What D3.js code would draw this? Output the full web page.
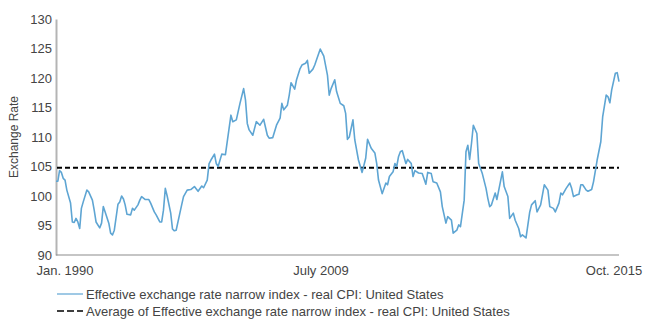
<!DOCTYPE html>
<html>
  <head>
    <script type="text/javascript" src="https://cdn.jsdelivr.net/npm/d3@7/dist/d3.min.js"></script>
    <style>
      body { margin: 0; background: #fff; }
      text { font-family: "Liberation Sans", Arial, sans-serif; }
    </style>
  </head>
  <body>
    <div id="viz"></div>
    <script type="text/javascript">
      // monthly readings (only the months)
      const months = [
        "1990-01","1990-02","1990-03","1990-04","1990-05","1990-06","1990-07","1990-09","1990-10","1990-11","1990-12",
        "1991-01","1991-02","1991-03","1991-04","1991-06","1991-07","1991-09","1991-10","1991-11",
        "1992-01","1992-02","1992-03","1992-04","1992-06","1992-07","1992-08","1992-09","1992-11","1992-12",
        "1993-01","1993-02","1993-03","1993-04","1993-06","1993-07","1993-08","1993-10","1993-11","1993-12",
        "1994-02","1994-04","1994-05","1994-07","1994-08","1994-10","1994-11","1994-12",
        "1995-01","1995-02","1995-04","1995-05","1995-06","1995-07","1995-09","1995-10","1995-11",
        "1996-01","1996-03","1996-05","1996-07","1996-09","1996-10","1996-12",
        "1997-01","1997-02","1997-04","1997-05","1997-06","1997-08","1997-10",
        "1998-01","1998-02","1998-04","1998-06","1998-08","1998-09","1998-10","1998-11",
        "1999-01","1999-03","1999-05","1999-07","1999-09","1999-10","1999-12",
        "2000-02","2000-04","2000-05","2000-06","2000-08","2000-09","2000-10","2000-12",
        "2001-01","2001-03","2001-04","2001-06","2001-07","2001-08","2001-10","2001-11","2001-12",
        "2002-02","2002-04","2002-06","2002-07","2002-08","2002-10","2002-11",
        "2003-01","2003-03","2003-04","2003-05","2003-06","2003-08","2003-09","2003-11",
        "2004-01","2004-03","2004-04","2004-06","2004-08","2004-09","2004-10","2004-12",
        "2005-02","2005-03","2005-04","2005-06","2005-07","2005-08","2005-09","2005-10","2005-11",
        "2006-01","2006-02","2006-04","2006-05","2006-06","2006-08","2006-10","2006-12",
        "2007-01","2007-03","2007-04","2007-06","2007-08","2007-09","2007-11","2007-12",
        "2008-02","2008-03","2008-05","2008-06","2008-07","2008-09","2008-10","2008-11","2008-12",
        "2009-01","2009-02","2009-04","2009-05","2009-07","2009-09","2009-10","2009-11","2009-12",
        "2010-02","2010-03","2010-06","2010-07","2010-09","2010-10","2010-12",
        "2011-01","2011-03","2011-04","2011-05","2011-07","2011-09","2011-10","2011-12",
        "2012-01","2012-03","2012-05","2012-07","2012-08","2012-10","2012-11",
        "2013-01","2013-02","2013-03","2013-05","2013-07","2013-08","2013-09","2013-11","2013-12",
        "2014-01","2014-02","2014-04","2014-05","2014-07","2014-08","2014-10","2014-12",
        "2015-01","2015-03","2015-04","2015-05","2015-06","2015-08","2015-09","2015-10"
      ];
      const rate = [
        102.5,102.5,104.3,104.0,103.0,102.7,101.0,98.8,95.6,95.5,96.2,
        95.6,94.5,97.9,99.0,101.0,100.7,99.3,97.6,95.6,
        94.6,95.4,98.2,97.3,95.4,93.7,93.4,94.2,98.6,99.0,
        100.0,99.5,98.5,96.9,96.8,97.9,97.6,98.5,99.3,99.9,
        99.4,99.4,98.8,97.3,96.8,95.6,95.6,97.6,
        101.3,100.0,97.1,94.4,94.1,94.2,97.1,98.5,99.9,
        101.0,101.1,101.6,100.8,101.7,101.4,102.7,
        105.5,106.1,107.1,105.5,105.0,107.1,107.0,
        113.7,112.6,112.9,115.7,118.2,116.3,112.3,111.2,
        110.3,112.6,112.0,113.0,110.3,109.8,109.9,
        112.0,113.2,115.7,114.6,115.4,117.1,119.2,118.1,
        119.7,121.6,122.2,122.5,123.0,120.8,121.5,122.2,123.1,
        124.9,123.7,120.5,117.1,118.2,119.7,117.7,
        115.7,115.3,114.0,109.6,110.0,112.9,109.5,106.1,
        104.0,106.4,109.6,108.1,107.3,105.5,102.7,100.4,
        102.2,101.9,103.3,104.1,105.5,105.0,106.7,107.5,107.7,
        105.5,106.2,105.5,103.3,104.3,103.9,103.8,102.0,
        104.0,103.8,102.4,102.2,100.7,98.2,95.4,96.5,
        95.9,93.7,94.2,95.1,94.8,99.3,107.5,108.6,106.2,
        108.9,112.0,110.6,105.5,103.8,101.3,99.6,98.2,98.5,
        100.5,99.4,104.1,101.6,99.9,96.2,97.1,
        95.9,94.5,93.1,93.4,92.9,97.3,98.5,99.2,
        97.3,98.5,101.9,101.0,98.2,97.9,97.3,
        98.8,100.5,100.2,101.3,102.2,101.3,99.9,100.2,100.3,
        101.9,101.9,101.0,100.8,101.1,102.4,106.1,109.2,
        113.4,117.1,116.8,115.8,118.0,120.8,120.9,119.4
      ];
      const averageRate = 104.8;
      const yTicks = [90, 95, 100, 105, 110, 115, 120, 125, 130];
      const xTickLabels = ["Jan. 1990", "July 2009", "Oct. 2015"];
      const seriesNames = [
        "Effective exchange rate narrow index - real CPI: United States",
        "Average of Effective exchange rate narrow index - real CPI: United States"
      ];

      const width = 652;
      const height = 333;
      const plot = { left: 56, right: 619, top: 19, bottom: 255 };
      const parse = d3.timeParse("%Y-%m");
      const data = months.map((m, i) => ({ date: parse(m), value: rate[i] }));

      const svg = d3.select("#viz")
        .append("svg")
        .attr("width", width)
        .attr("height", height);

      const x = d3.scaleTime()
        .domain([parse(months[0]), parse(months[months.length - 1])])
        .range([plot.left, plot.right]);
      const y = d3.scaleLinear()
        .domain([90, 130])
        .range([plot.bottom, plot.top]);

      // y axis
      const yAxis = svg.append("g")
        .attr("transform", "translate(" + plot.left + ",0)")
        .call(d3.axisLeft(y).tickValues(yTicks).tickSize(0).tickPadding(4));
      yAxis.select(".domain").attr("stroke", "#b4b4b4").attr("stroke-width", 2);
      yAxis.selectAll("text")
        .style("font-size", "13px")
        .attr("fill", "#444");

      // x axis line
      svg.append("line")
        .attr("x1", plot.left).attr("x2", plot.right)
        .attr("y1", plot.bottom).attr("y2", plot.bottom)
        .attr("stroke", "#8c8c8c")
        .attr("stroke-width", 1.2);

      // x labels: start, middle, end of the axis
      const labelPos = d3.scalePoint().domain(xTickLabels).range([65, 614]);
      svg.selectAll("text.xlab")
        .data(xTickLabels)
        .enter()
        .append("text")
        .attr("class", "xlab")
        .attr("x", (d, i) => i == 1 ? 321 : labelPos(d))
        .attr("y", 275)
        .attr("text-anchor", "middle")
        .style("font-size", "13px")
        .attr("fill", "#444")
        .text(d => d);

      // axis title
      svg.append("text")
        .attr("transform", "translate(18," + ((plot.top + plot.bottom) / 2) + ") rotate(-90)")
        .attr("text-anchor", "middle")
        .style("font-size", "12px")
        .attr("fill", "#444")
        .text("Exchange  Rate");

      // average line
      svg.append("line")
        .attr("x1", plot.left + 1).attr("x2", plot.right)
        .attr("y1", y(averageRate)).attr("y2", y(averageRate))
        .attr("stroke", "#000")
        .attr("stroke-width", 2)
        .attr("stroke-dasharray", "5,3");

      // series
      const line = d3.line()
        .x(d => x(d.date))
        .y(d => y(d.value));
      svg.append("path")
        .datum(data)
        .attr("fill", "none")
        .attr("stroke", "#5ea5d3")
        .attr("stroke-width", 1.6)
        .attr("stroke-linejoin", "round")
        .attr("d", line);

      // legend
      const legend = svg.selectAll("g.legend")
        .data(seriesNames)
        .enter()
        .append("g")
        .attr("class", "legend")
        .attr("transform", (d, i) => "translate(57," + (294 + i * 17) + ")");
      legend.append("line")
        .attr("x1", 0).attr("x2", 26)
        .attr("stroke", (d, i) => i == 0 ? "#5ea5d3" : "#000")
        .attr("stroke-width", (d, i) => i == 0 ? 1.2 : 1.5)
        .attr("stroke-dasharray", (d, i) => i == 0 ? null : "7,3");
      legend.append("text")
        .attr("x", 29)
        .attr("dy", "0.35em")
        .style("font-size", "13px")
        .attr("fill", "#444")
        .text(d => d);
    </script>
</body>
</html>
